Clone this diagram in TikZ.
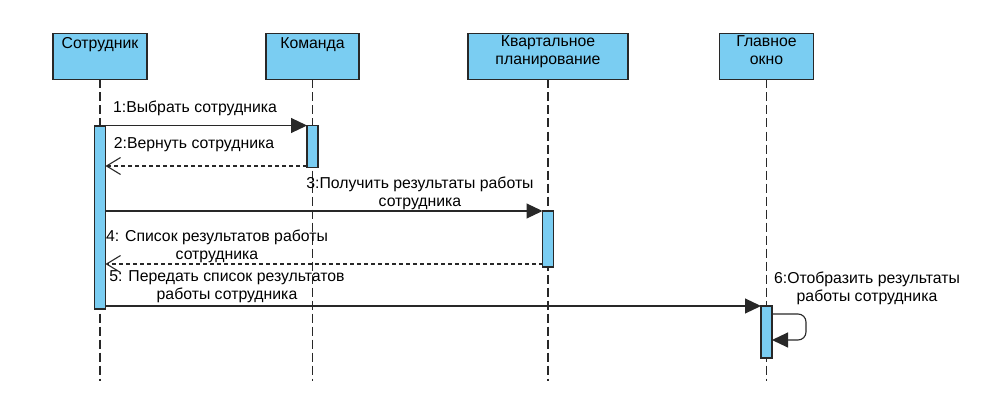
\documentclass[tikz,border=0pt]{standalone}
\usepackage{fontspec}
\setmainfont{Liberation Sans}
\usetikzlibrary{arrows.meta}
\definecolor{boxfill}{RGB}{122,205,242}
\definecolor{linec}{RGB}{40,40,40}
\begin{document}
\begin{tikzpicture}[x=1pt,y=-1pt,
  every node/.style={font=\fontsize{15.8}{18}\selectfont, inner sep=0pt, outer sep=0pt},
  actor/.style={draw=linec, line width=1.6pt, fill=boxfill, rectangle, minimum height=46pt},
  actbar/.style={draw=linec, line width=1.3pt, fill=boxfill, rectangle, minimum width=11pt},
  lifeline/.style={draw=linec, line width=1.2pt, dash pattern=on 9pt off 4pt},
  msg/.style={draw=linec, line width=1.1pt, -{Triangle[length=16pt,width=15pt]}},
  ret/.style={draw=linec, line width=1.1pt, dash pattern=on 4pt off 3pt, -{Straight Barb[length=14pt,width=17pt,line width=1.1pt]}},
  lbl/.style={align=center}
]
\useasboundingbox (0,0) rectangle (997,420);
% actors
\node[actor, minimum width=94pt] (A) at (100,56.5) {};
\node[actor, minimum width=93pt] (B) at (312.5,56.5) {};
\node[actor, minimum width=160pt] (C) at (548,56.5) {};
\node[actor, minimum width=94pt] (D) at (766.5,56.5) {};
\node[lbl, anchor=north] (At) at ([yshift=-4pt]A.north) {Сотрудник};
\node[lbl, anchor=north] (Bt) at ([yshift=-4pt]B.north) {Команда};
\node[lbl, anchor=north] (Ct) at ([yshift=-2.5pt]C.north) {Квартальное\\планирование};
\node[lbl, anchor=north] (Dt) at ([yshift=-2.5pt]D.north) {Главное\\окно};
% lifeline ends
\coordinate (Ae) at (100,381);
\coordinate (Be) at (312.5,381);
\coordinate (Ce) at (548,381);
\coordinate (De) at (766.5,381);
\draw[lifeline] (A.south) -- (Ae);
\draw[lifeline] (B.south) -- (Be);
\draw[lifeline] (C.south) -- (Ce);
\draw[lifeline] (D.south) -- (De);
% activation bars
\node[actbar, minimum height=183pt] (a1) at (100,217.5) {};
\node[actbar, minimum height=42pt] (b1) at (312.5,146.5) {};
\node[actbar, minimum height=56pt] (c1) at (548,239) {};
\node[actbar, minimum height=52pt] (d1) at (766.5,332) {};
% messages
\draw[msg] (a1.east |- b1.north) -- (b1.north west);
\draw[ret] (b1.south west) ++(0,1.5pt) coordinate (r2s) -- (a1.east |- r2s);
\draw[msg] (a1.east |- c1.north) -- (c1.north west);
\draw[ret] (c1.south west) ++(0,3pt) coordinate (r4s) -- (a1.east |- r4s);
\draw[msg] (a1.east |- d1.north) -- (d1.north west);
\coordinate (s1) at (d1.east |- 0,314);
\coordinate (s2) at (806,314);
\coordinate (s3) at (806,340);
\coordinate (s4) at (d1.east |- 0,340);
\draw[msg, rounded corners=8pt] (s1) -- (s2) -- (s3) -- (s4);
% labels
\node[lbl] (l1) at (195,108) {1:Выбрать сотрудника};
\node[lbl] (l2) at (194,145) {2:Вернуть сотрудника};
\node[lbl] (l3) at (420,193.5) {3:Получить результаты работы\\сотрудника};
\node[lbl] (l4) at (217,246) {4: Список результатов работы\\сотрудника};
\node[lbl] (l5) at (227,287) {5: Передать список результатов\\работы сотрудника};
\node[lbl] (l6) at (867,288) {6:Отобразить результаты\\работы сотрудника};
\end{tikzpicture}
\end{document}
